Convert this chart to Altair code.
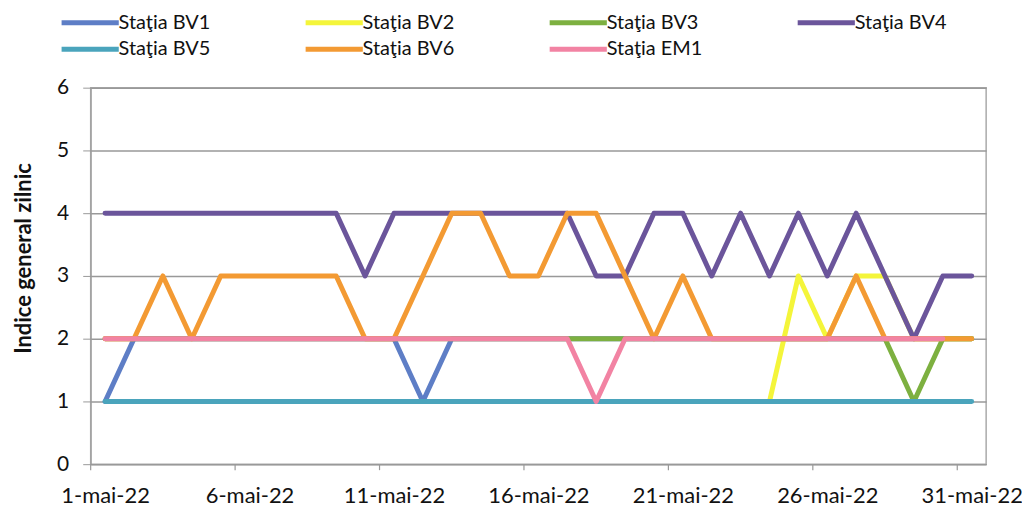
import altair as alt
import pandas as pd

days = list(range(1, 32))

series_names = ["Staţia BV1", "Staţia BV2", "Staţia BV3", "Staţia BV4",
                "Staţia BV5", "Staţia BV6", "Staţia EM1"]
series_colors = ["#5E7EC6", "#F4F53A", "#7DB040", "#6B559B",
                 "#4AA4BC", "#F39A33", "#F283A3"]

bv1 = [1, 2, 2, 2, 2, 2, 2, 2, 2, 2, 2, 1, 2, 2, 2, 2, 2, 2, 2, 2,
       2, 2, 2, 2, 2, 2, 2, 2, 2, 2, 2]
bv2 = [None] * 23 + [1, 3, 2, 3, 3, 2, 2, 2]
bv3 = [2] * 28 + [1, 2, 2]
bv4 = [4, 4, 4, 4, 4, 4, 4, 4, 4, 3, 4, 4, 4, 4, 4, 4, 4, 3, 3, 4,
       4, 3, 4, 3, 4, 3, 4, 3, 2, 3, 3]
bv5 = [1] * 31
bv6 = [2, 2, 3, 2, 3, 3, 3, 3, 3, 2, 2, 3, 4, 4, 3, 3, 4, 4, 3, 2,
       3, 2, 2, 2, 2, 2, 3, 2, 2, 2, 2]
em1 = [2] * 17 + [1] + [2] * 12 + [None]

tick_days = [1, 6, 11, 16, 21, 26, 31]
tick_labels = ["1-mai-22", "6-mai-22", "11-mai-22", "16-mai-22",
               "21-mai-22", "26-mai-22", "31-mai-22"]
y_ticks = [0, 1, 2, 3, 4, 5, 6]

rows = []
for name, vals in zip(series_names, [bv1, bv2, bv3, bv4, bv5, bv6, em1]):
    for d, v in zip(days, vals):
        if v is not None:
            rows.append({"day": d, "series": name, "value": v})
df = pd.DataFrame(rows)
ticks_df = pd.DataFrame({"day": tick_days})

label_map = "{" + ",".join(f"'{d}':'{l}'" for d, l in zip(tick_days, tick_labels)) + "}"
label_expr = f"{label_map}[''+(datum.value-0.5)]"

FONT = "Lato"
x_scale = alt.Scale(domain=[1, 32], nice=False, zero=False)

lines = (
    alt.Chart(df)
    .transform_calculate(xpos="datum.day + 0.5")
    .mark_line(strokeWidth=5, strokeJoin="round", strokeCap="round")
    .encode(
        x=alt.X("xpos:Q", scale=x_scale,
                axis=alt.Axis(values=[d + 0.5 for d in tick_days],
                              labelExpr=label_expr, grid=False,
                              title=None, ticks=False, labelPadding=21,
                              labelOverlap=False, labelBound=False,
                              labelFontSize=22, labelColor="#111",
                              domainColor="#999", labelFont=FONT)),
        y=alt.Y("value:Q",
                scale=alt.Scale(domain=[0, 6], nice=False),
                axis=alt.Axis(values=y_ticks, grid=True, gridColor="#999",
                              gridWidth=1.5, title="Indice general zilnic",
                              titleFontSize=22, titleFont=FONT,
                              titleFontWeight="bold", titleColor="#111",
                              titleX=-67, titleY=171, titleAlign="center",
                              titleBaseline="middle", titleAngle=270,
                              tickSize=8, labelPadding=14,
                              labelFontSize=21, labelColor="#111",
                              labelFont=FONT, domainColor="#999",
                              tickColor="#999")),
        color=alt.Color("series:N",
                        scale=alt.Scale(domain=series_names, range=series_colors),
                        legend=alt.Legend(orient="none", legendX=-17, legendY=-82,
                                          direction="horizontal", columns=4,
                                          title=None,
                                          symbolType="M-2.05,0H2.05",
                                          symbolSize=784, symbolStrokeWidth=5,
                                          labelFontSize=20, labelFont=FONT,
                                          labelColor="#111", labelOffset=12,
                                          columnPadding=84, rowPadding=0)),
        order=alt.Order("series:N"),
    )
)

tick_marks = (
    alt.Chart(ticks_df)
    .mark_rule(color="#999", strokeWidth=1.2)
    .encode(x=alt.X("day:Q", scale=x_scale), y=alt.value(378), y2=alt.value(384))
)

chart = (
    alt.layer(lines, tick_marks)
    .properties(width=899, height=378,
                autosize=alt.AutoSizeParams(type="none"),
                padding={"left": 83, "top": 79, "right": 36, "bottom": 43})
    .configure_view(stroke="#aaa", strokeWidth=1.5)
)

chart.save("out.html", embed_options={"renderer": "svg", "actions": False})
